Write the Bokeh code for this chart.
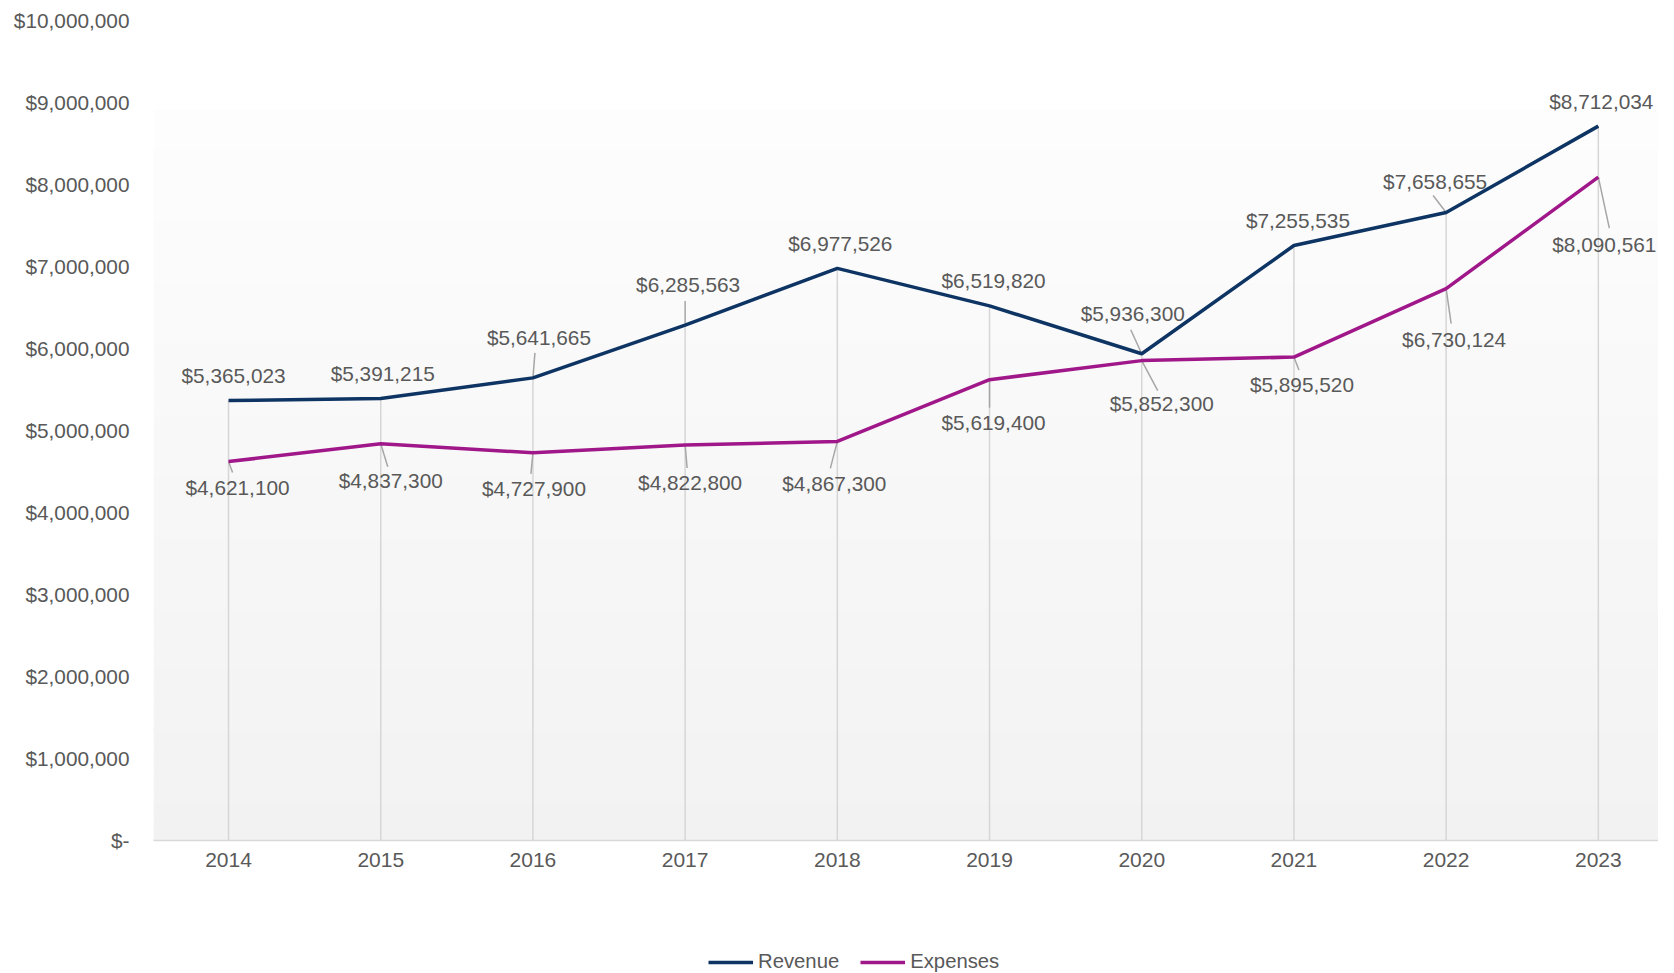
import numpy as np
from bokeh.plotting import figure
from bokeh.layouts import column
from bokeh.models import (ColumnDataSource, FixedTicker, NumeralTickFormatter,
                          Legend, LegendItem, Range1d)
from bokeh.core.properties import value
from bokeh.embed import file_html
from bokeh.resources import INLINE

# ---------------- data ----------------
years = [2014, 2015, 2016, 2017, 2018, 2019, 2020, 2021, 2022, 2023]
revenue = [5365023, 5391215, 5641665, 6285563, 6977526, 6519820, 5936300, 7255535, 7658655, 8712034]
expenses = [4621100, 4837300, 4727900, 4822800, 4867300, 5619400, 5852300, 5895520, 6730124, 8090561]
y_ticks = [0, 1000000, 2000000, 3000000, 4000000, 5000000, 6000000, 7000000, 8000000, 9000000, 10000000]
series_names = ["Revenue", "Expenses"]

# ---------------- label placement (screen px) ----------------
rev_label_dx = [5, 2, 6, 3, 3, 4, -9, 4, -11, 3]
rev_label_dy = [-25, -25, -40, -41, -25, -25, -40, -25, -31, -25]
exp_label_dx = [9, 10, 1, 5, -3, 4, 20, 8, 8, 6]
exp_label_dy = [26, 37, 36, 37, 42, 43, 43, 27, 51, 67]
rev_leader_dx = [0, 0, 2, 0, 0, 0, -11, 0, -13, 0]
rev_leader_dy = [0, 0, -25, -24, 0, 0, -24, 0, -17, 0]
exp_leader_dx = [4, 7, -2, 2, -7, 0, 16, 5, 5, 11]
exp_leader_dy = [11, 23, 21, 23, 27, 28, 30, 13, 35, 51]

# ---------------- geometry ----------------
W = 1658
H_MAIN = 885
H_LEG = 88
B_LEFT, B_RIGHT, B_TOP = 153, 0, 20
B_BOTTOM = H_MAIN - 840
frame_w = W - B_LEFT - B_RIGHT
frame_h = H_MAIN - B_TOP - B_BOTTOM
px_per_year = 152.2
x_start = years[0] - 0.493
x_end = x_start + frame_w / px_per_year
y_end = y_ticks[-1]
px_per_val = frame_h / y_end

FONT = "Liberation Sans"
TXT = "#595959"
NAVY = "#0d3463"
MAGENTA = "#a0178a"

p = figure(width=W, height=H_MAIN, output_backend="svg", toolbar_location=None,
           x_range=Range1d(x_start, x_end), y_range=Range1d(0, y_end),
           min_border_left=B_LEFT, min_border_right=B_RIGHT,
           min_border_top=B_TOP, min_border_bottom=B_BOTTOM)
p.outline_line_color = None
p.background_fill_color = "white"
p.border_fill_color = "white"
p.xgrid.visible = False
p.ygrid.visible = False

# gradient background (white on top to light grey at bottom)
n = 60
g_top = 8870000
edges = np.linspace(0, g_top, n + 1)
shades = np.linspace(242, 253, n).round().astype(int)
cols = ["#%02x%02x%02x" % (s, s, s) for s in shades]
p.quad(left=x_start, right=x_end, bottom=edges[:-1], top=edges[1:] + g_top / n * 0.3,
       fill_color=cols, line_color=None)

# drop lines from the axis to the highest point of each year
tops = [max(r, e) for r, e in zip(revenue, expenses)]
p.segment(x0=years, y0=[0] * len(years), x1=years, y1=tops,
          line_color="#d6d6d6", line_width=1.5)

# leader lines
def leaders(vals, dxs, dys):
    x1 = [yr + dx / px_per_year for yr, dx in zip(years, dxs)]
    y1 = [v - dy / px_per_val for v, dy in zip(vals, dys)]
    return x1, y1

rx1, ry1 = leaders(revenue, rev_leader_dx, rev_leader_dy)
ex1, ey1 = leaders(expenses, exp_leader_dx, exp_leader_dy)
p.segment(x0=years, y0=revenue, x1=rx1, y1=ry1, line_color="#a6a6a6", line_width=1.5)
p.segment(x0=years, y0=expenses, x1=ex1, y1=ey1, line_color="#a6a6a6", line_width=1.5)

# series
p.line(years, revenue, line_color=NAVY, line_width=3.5)
p.line(years, expenses, line_color=MAGENTA, line_width=3.5)

# data labels
def fmt(v):
    return "${:,}".format(v)

src_r = ColumnDataSource(dict(x=years, y=revenue, t=[fmt(v) for v in revenue],
                              dx=rev_label_dx, dy=rev_label_dy))
src_e = ColumnDataSource(dict(x=years, y=expenses, t=[fmt(v) for v in expenses],
                              dx=exp_label_dx, dy=exp_label_dy))
for src in (src_r, src_e):
    p.text(x="x", y="y", text="t", x_offset="dx", y_offset="dy", source=src,
           text_font=value(FONT), text_font_size="20.8px", text_color=TXT,
           text_align="center", text_baseline="middle")

# axes
p.xaxis.ticker = FixedTicker(ticks=years)
p.xaxis.axis_line_color = "#d9d9d9"
p.xaxis.axis_line_width = 1.5
p.xaxis.major_tick_line_color = None
p.xaxis.minor_tick_line_color = None
p.xaxis.major_tick_out = 0
p.xaxis.major_label_standoff = 12
p.xaxis.major_label_text_font = FONT
p.xaxis.major_label_text_font_size = "21px"
p.xaxis.major_label_text_color = TXT

p.yaxis.ticker = FixedTicker(ticks=y_ticks)
p.yaxis.formatter = NumeralTickFormatter(format="$0,0")
p.yaxis.major_label_overrides = {0: "$-"}
p.yaxis.axis_line_color = None
p.yaxis.major_tick_line_color = None
p.yaxis.minor_tick_line_color = None
p.yaxis.major_tick_out = 0
p.yaxis.major_label_standoff = 24
p.yaxis.major_label_text_font = FONT
p.yaxis.major_label_text_font_size = "20.8px"
p.yaxis.major_label_text_color = TXT

# legend in its own strip below the chart
lg = figure(width=W, height=H_LEG, output_backend="svg", toolbar_location=None,
            x_range=Range1d(0, 1), y_range=Range1d(0, 1),
            min_border_left=0, min_border_right=0, min_border_top=0, min_border_bottom=0)
lg.axis.visible = False
lg.grid.visible = False
lg.outline_line_color = None
lg.border_fill_color = "white"
lg_rev = lg.line(x=[-5, -4], y=[-5, -4], line_color=NAVY, line_width=3.5)
lg_exp = lg.line(x=[-5, -4], y=[-5, -4], line_color=MAGENTA, line_width=3.5)
legend = Legend(items=[LegendItem(label=series_names[0], renderers=[lg_rev]),
                       LegendItem(label=series_names[1], renderers=[lg_exp])],
                orientation="horizontal", location=(555, 0),
                glyph_width=45, glyph_height=20, label_standoff=5, spacing=21,
                padding=0, margin=0, border_line_color=None, background_fill_alpha=0,
                label_text_font=FONT, label_text_font_size="20.3px", label_text_color=TXT)
lg.add_layout(legend, "center")

layout = column(p, lg, spacing=0)
open("out.html", "w").write(file_html(layout, INLINE))
